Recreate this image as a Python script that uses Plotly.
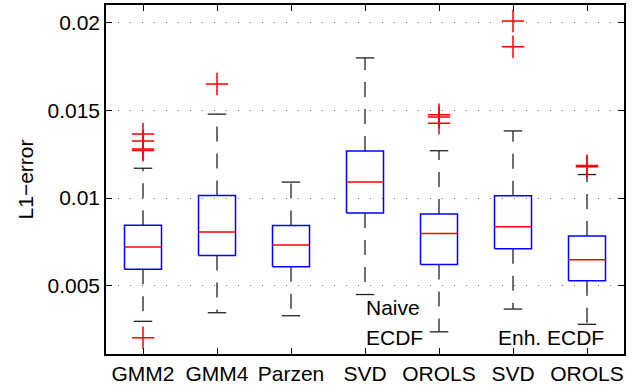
import plotly.graph_objects as go

# ---- data (values in absolute L1-error units) ----
categories = ["GMM2", "GMM4", "Parzen", "SVD", "OROLS", "SVD", "OROLS"]
lower_whisker = [0.00296, 0.00345, 0.00328, 0.00449, 0.00236, 0.00366, 0.00279]
q1 = [0.00594, 0.00672, 0.00608, 0.00915, 0.00621, 0.00711, 0.00528]
median = [0.00721, 0.00806, 0.00732, 0.01091, 0.00798, 0.00836, 0.00647]
q3 = [0.00845, 0.01015, 0.00843, 0.01268, 0.00909, 0.01013, 0.00783]
upper_whisker = [0.01170, 0.01479, 0.01091, 0.01800, 0.01270, 0.01383, 0.01134]
outliers = [
    [0.01365, 0.01326, 0.01280, 0.01272, 0.00202],
    [0.01651],
    [],
    [],
    [0.01476, 0.01462, 0.01427],
    [0.02011, 0.01864],
    [0.01185, 0.01178],
]
ytick_vals = [0.005, 0.01, 0.015, 0.02]
ytick_text = ["0.005", "0.01", "0.015", "0.02"]

# ---- styling constants ----
FONT = "Liberation Sans, Arial, Helvetica, sans-serif"
FS = 21
BOX_HALF = 0.25
CAP_HALF = 0.125

pos = list(range(1, len(categories) + 1))

box_x, box_y = [], []
med_x, med_y = [], []
wh_x, wh_y = [], []
cap_x, cap_y = [], []
out_x, out_y = [], []
for i, p in enumerate(pos):
    box_x += [p - BOX_HALF, p + BOX_HALF, p + BOX_HALF, p - BOX_HALF, p - BOX_HALF, None]
    box_y += [q1[i], q1[i], q3[i], q3[i], q1[i], None]
    med_x += [p - BOX_HALF, p + BOX_HALF, None]
    med_y += [median[i], median[i], None]
    wh_x += [p, p, None, p, p, None]
    wh_y += [q3[i], upper_whisker[i], None, q1[i], lower_whisker[i], None]
    cap_x += [p - CAP_HALF, p + CAP_HALF, None, p - CAP_HALF, p + CAP_HALF, None]
    cap_y += [upper_whisker[i], upper_whisker[i], None, lower_whisker[i], lower_whisker[i], None]
    for v in outliers[i]:
        out_x.append(p)
        out_y.append(v)

fig = go.Figure()
fig.add_trace(go.Scatter(x=wh_x, y=wh_y, mode="lines",
                         line=dict(color="#222222", width=1.3, dash="15px,12px"),
                         hoverinfo="skip", showlegend=False))
fig.add_trace(go.Scatter(x=cap_x, y=cap_y, mode="lines",
                         line=dict(color="#222222", width=1.3),
                         hoverinfo="skip", showlegend=False))
fig.add_trace(go.Scatter(x=box_x, y=box_y, mode="lines",
                         line=dict(color="#0000FF", width=1.5),
                         hoverinfo="skip", showlegend=False))
fig.add_trace(go.Scatter(x=med_x, y=med_y, mode="lines",
                         line=dict(color="#FF0000", width=1.5),
                         hoverinfo="skip", showlegend=False))
fig.add_trace(go.Scatter(x=out_x, y=out_y, mode="markers",
                         marker=dict(symbol="cross-thin", size=16,
                                     line=dict(color="#FF0000", width=1.5)),
                         hoverinfo="skip", showlegend=False))

fig.add_annotation(x=3.98, y=0.00375, text="Naive", showarrow=False,
                   xanchor="left", yanchor="middle", xref="x", yref="y",
                   font=dict(family=FONT, size=FS, color="black"))
fig.add_annotation(x=3.98, y=0.00205, text="ECDF", showarrow=False,
                   xanchor="left", yanchor="middle", xref="x", yref="y",
                   font=dict(family=FONT, size=FS, color="black"))
fig.add_annotation(x=7.25, y=0.00205, text="Enh. ECDF", showarrow=False,
                   xanchor="right", yanchor="middle", xref="x", yref="y",
                   font=dict(family=FONT, size=FS, color="black"))

fig.update_layout(
    width=643, height=388,
    margin=dict(l=106, r=19, t=3, b=33),
    paper_bgcolor="white", plot_bgcolor="white",
    font=dict(family=FONT, size=FS, color="black"),
    xaxis=dict(range=[0.5, 7.5], tickmode="array", tickvals=pos, ticktext=categories,
               showgrid=False, zeroline=False, showline=True, linecolor="black",
               linewidth=1.5, mirror="ticks", ticks="inside", ticklen=6,
               tickcolor="black", tickwidth=1, tickfont=dict(size=FS)),
    yaxis=dict(range=[0.001095, 0.02102], tickmode="array", tickvals=ytick_vals,
               ticktext=ytick_text, showgrid=True, gridcolor="#777777",
               griddash="1px,11px", gridwidth=1, zeroline=False, showline=True,
               linecolor="black", linewidth=1.5, mirror="ticks", ticks="inside",
               ticklen=6, tickcolor="black", tickwidth=1, tickfont=dict(size=FS),
               title=dict(text="L1\u2212error", font=dict(size=FS), standoff=8)),
)

fig.write_html("out.html", config={"displayModeBar": False},
               post_script="document.body.style.margin='0';document.body.style.overflow='hidden';")
